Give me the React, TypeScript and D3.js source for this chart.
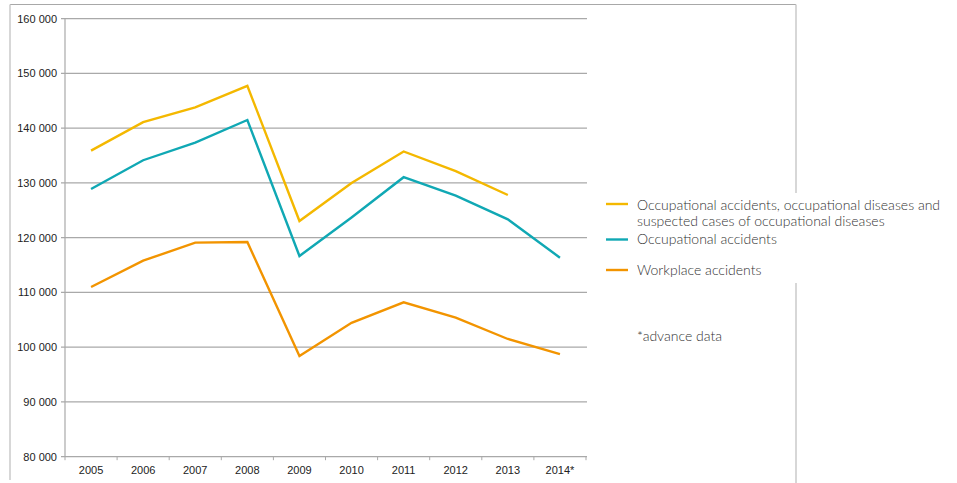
import React from "react";
import * as d3 from "d3";

const years = ["2005", "2006", "2007", "2008", "2009", "2010", "2011", "2012", "2013", "2014*"];
const allCases = [135900, 141100, 143800, 147750, 123050, 130000, 135750, 132150, 127800, null];
const occupationalAccidents = [128900, 134150, 137350, 141500, 116650, 123700, 131050, 127700, 123350, 116350];
const workplaceAccidents = [111000, 115800, 119100, 119200, 98400, 104450, 108200, 105400, 101500, 98750];
const yTicks = [80000, 90000, 100000, 110000, 120000, 130000, 140000, 150000, 160000];

const seriesNames = [
  ["Occupational accidents, occupational diseases and", "suspected cases of occupational diseases"],
  ["Occupational accidents"],
  ["Workplace accidents"],
];
const colors = ["#F4B800", "#10A8B4", "#F29400"];
const footnote = "*advance data";

export default function App() {
  const W = 957, H = 483;
  const x = d3.scaleBand().domain(years).range([65, 586]);
  const y = d3.scaleLinear().domain([80000, 160000]).range([456.7, 18.7]);
  const line = d3
    .line<number | null>()
    .defined((d) => d !== null)
    .x((_, i) => (x(years[i]) as number) + x.bandwidth() / 2)
    .y((d) => y(d as number));
  const fmt = (v: number) => d3.format(",")(v).replace(/,/g, " ");
  const series = [allCases, occupationalAccidents, workplaceAccidents];
  const bounds = years.map((yr) => x(yr) as number).concat([x.range()[1]]);
  const legendY = [204, 239.5, 270];
  const textY = [[210, 226], [244], [275]];

  return (
    <svg width={W} height={H} style={{ position: "absolute", left: 0, top: 0, background: "#fff" }}>
      {/* outer frame */}
      <line x1={10} x2={796} y1={4.5} y2={4.5} stroke="#a8a8a8" strokeWidth={1.2} />
      <line x1={10} x2={10} y1={4.5} y2={480} stroke="#cacaca" strokeWidth={1.5} />
      <line x1={796} x2={796} y1={4.5} y2={483} stroke="#cacaca" strokeWidth={1.5} />

      {/* gridlines and y labels */}
      {yTicks.map((t) => (
        <g key={t}>
          <line x1={61} x2={587} y1={y(t)} y2={y(t)} stroke="#a9a9a9" strokeWidth={1.2} />
          <text x={57} y={y(t)} dy="0.35em" textAnchor="end" fontFamily="Liberation Sans, Arial, sans-serif" fontSize={11} fill="#222">
            {fmt(t)}
          </text>
        </g>
      ))}
      {/* y axis */}
      <line x1={65} x2={65} y1={y(160000)} y2={y(80000)} stroke="#a9a9a9" strokeWidth={1.2} />
      {/* x ticks */}
      {bounds.map((b, i) => (
        <line key={i} x1={b} x2={b} y1={y(80000)} y2={y(80000) + 3.5} stroke="#a9a9a9" strokeWidth={1} />
      ))}
      {years.map((yr) => (
        <text key={yr} x={(x(yr) as number) + x.bandwidth() / 2} y={474} textAnchor="middle" fontFamily="Liberation Sans, Arial, sans-serif" fontSize={11} fill="#222">
          {yr}
        </text>
      ))}

      {/* lines */}
      {series.map((s, i) => (
        <path key={i} d={line(s) || ""} fill="none" stroke={colors[i]} strokeWidth={2.4} strokeLinejoin="miter" />
      ))}

      {/* legend */}
      <rect x={600} y={193} width={350} height={90} fill="#fff" />
      {seriesNames.map((nm, i) => (
        <g key={i}>
          <line x1={606} x2={628} y1={legendY[i]} y2={legendY[i]} stroke={colors[i]} strokeWidth={2.4} />
          {nm.map((t, j) => (
            <text key={j} x={637} y={textY[i][j]} fontFamily="Lato, 'Open Sans', sans-serif" fontWeight={300} fontSize={14} fill="#333">
              {t}
            </text>
          ))}
        </g>
      ))}
      <text x={637} y={341} fontFamily="Lato, 'Open Sans', sans-serif" fontWeight={300} fontSize={14} fill="#333">
        {footnote}
      </text>
    </svg>
  );
}
